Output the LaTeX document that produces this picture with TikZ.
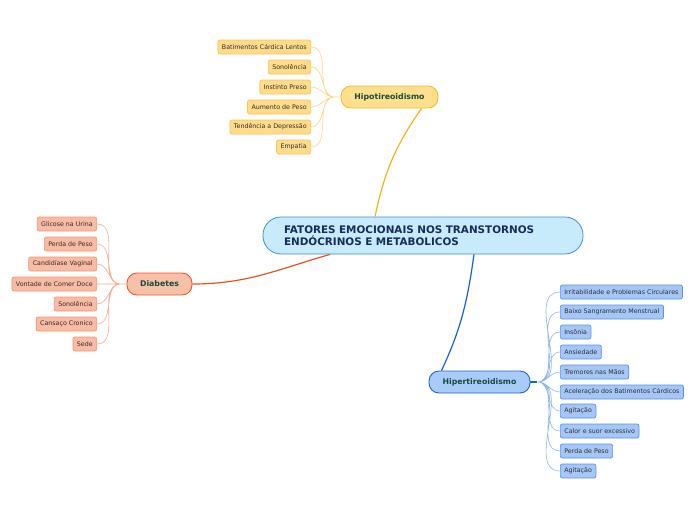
\documentclass[tikz,border=0pt]{standalone}
\usepackage{fontspec}
\setmainfont{DejaVu Sans}
\usepackage{xcolor}
\usepackage{tikz}
\usetikzlibrary{
	calc,
	positioning
}
\definecolor{CenterFill}{HTML}{C8EBFB}
\definecolor{CenterLine}{HTML}{3D8FD1}
\definecolor{CenterText}{HTML}{1A2A5A}
\definecolor{BranchText}{HTML}{174C3C}
\definecolor{LeafText}{HTML}{2E2E2E}
\definecolor{HipoFill}{HTML}{FFDF8E}
\definecolor{HipoLine}{HTML}{F6BB2A}
\definecolor{HipoEdge}{HTML}{F4B41A}
\definecolor{HipoLeaf}{HTML}{FFDB8A}
\definecolor{HipoLeafLine}{HTML}{F7C65C}
\definecolor{HipoLeafEdge}{HTML}{FFD580}
\definecolor{DiaFill}{HTML}{F8BFA9}
\definecolor{DiaLine}{HTML}{F0552A}
\definecolor{DiaEdge}{HTML}{F04E23}
\definecolor{DiaLeaf}{HTML}{F9BBA4}
\definecolor{DiaLeafLine}{HTML}{F79574}
\definecolor{DiaLeafEdge}{HTML}{FAAB8F}
\definecolor{HiperFill}{HTML}{A9CBF9}
\definecolor{HiperLine}{HTML}{1E64D3}
\definecolor{HiperEdge}{HTML}{1563D6}
\definecolor{HiperLeaf}{HTML}{A5C7F7}
\definecolor{HiperLeafLine}{HTML}{5A93E6}
\definecolor{HiperLeafEdge}{HTML}{8DB6F0}

\begin{document}
\begin{tikzpicture}[x=1pt, y=1pt,
	leaf/.style={draw, rounded corners=2pt, minimum height=14pt, inner xsep=4pt, inner ysep=0pt, line width=0.7pt, text=LeafText, font=\fontsize{6.3}{7}\selectfont},
	branch/.style={draw, rounded corners=10pt, minimum height=22pt, inner sep=0pt, line width=0.9pt, text=BranchText, font=\bfseries\fontsize{7.8}{9}\selectfont},
	twig/.style={line width=0.6pt}]
	\useasboundingbox (0,0) rectangle (696,-520);
	% central topic
	\node[draw=CenterLine, fill=CenterFill, line width=0.8pt, rounded corners=18pt, minimum width=320pt, minimum height=37pt, text width=278pt, align=left, text=CenterText, font=\bfseries\fontsize{10.4}{12}\selectfont] (center) at (423,-235.5) {FATORES EMOCIONAIS NOS TRANSTORNOS\\ENDÓCRINOS E METABOLICOS};
	% main branches
	\node[branch, draw=HipoLine, fill=HipoFill, minimum width=97pt] (hipo) at (389.5,-97) {Hipotireoidismo};
	\node[branch, draw=DiaLine, fill=DiaFill, minimum width=65pt] (dia) at (159.5,-284) {Diabetes};
	\node[branch, draw=HiperLine, fill=HiperFill, minimum width=101pt] (hiper) at (479.5,-382) {Hipertireoidismo};
	\draw[HipoEdge, line width=1.2pt] ([xshift=-48pt]center.north) to[out=78, in=235] ([xshift=32pt]hipo.south);
	\draw[DiaEdge, line width=1.2pt] ([xshift=-93pt]center.south) to[out=196, in=0] (dia.east);
	\draw[HiperEdge, line width=1.2pt] ([xshift=51pt]center.south) to[out=-98, in=65] ([xshift=-38pt]hiper.north);
	% Hipotireoidismo
	\node[leaf, fill=HipoLeaf, draw=HipoLeafLine, anchor=east] (h1) at (311,-47) {Batimentos Cárdica Lentos};
	\node[leaf, fill=HipoLeaf, draw=HipoLeafLine, anchor=east] (h2) at (311,-67) {Sonolência};
	\node[leaf, fill=HipoLeaf, draw=HipoLeafLine, anchor=east] (h3) at (311,-87) {Instinto Preso};
	\node[leaf, fill=HipoLeaf, draw=HipoLeafLine, anchor=east] (h4) at (311,-107) {Aumento de Peso};
	\node[leaf, fill=HipoLeaf, draw=HipoLeafLine, anchor=east] (h5) at (311,-127) {Tendência a Depressão};
	\node[leaf, fill=HipoLeaf, draw=HipoLeafLine, anchor=east] (h6) at (311,-147) {Empatia};
	\coordinate (hipohub) at ([xshift=-6pt]hipo.west);
	\draw[twig, HipoLeafEdge] (hipohub) -- (hipo.west)
		(h1.east) to[out=0, in=180] (hipohub) (h2.east) to[out=0, in=180] (hipohub)
		(h3.east) to[out=0, in=180] (hipohub) (h4.east) to[out=0, in=180] (hipohub)
		(h5.east) to[out=0, in=180] (hipohub) (h6.east) to[out=0, in=180] (hipohub);
	% Diabetes
	\node[leaf, fill=DiaLeaf, draw=DiaLeafLine, anchor=east] (d1) at (97,-224) {Glicose na Urina};
	\node[leaf, fill=DiaLeaf, draw=DiaLeafLine, anchor=east] (d2) at (97,-244) {Perda de Peso};
	\node[leaf, fill=DiaLeaf, draw=DiaLeafLine, anchor=east] (d3) at (97,-264) {Candidíase Vaginal};
	\node[leaf, fill=DiaLeaf, draw=DiaLeafLine, anchor=east] (d4) at (97,-284) {Vontade de Comer Doce};
	\node[leaf, fill=DiaLeaf, draw=DiaLeafLine, anchor=east] (d5) at (97,-304) {Sonolência};
	\node[leaf, fill=DiaLeaf, draw=DiaLeafLine, anchor=east] (d6) at (97,-324) {Cansaço Cronico};
	\node[leaf, fill=DiaLeaf, draw=DiaLeafLine, anchor=east] (d7) at (97,-344) {Sede};
	\coordinate (diahub) at ([xshift=-6pt]dia.west);
	\draw[twig, DiaLeafEdge] (diahub) -- (dia.west)
		(d1.east) to[out=0, in=180] (diahub) (d2.east) to[out=0, in=180] (diahub)
		(d3.east) to[out=0, in=180] (diahub) (d4.east) to[out=0, in=180] (diahub)
		(d5.east) to[out=0, in=180] (diahub) (d6.east) to[out=0, in=180] (diahub)
		(d7.east) to[out=0, in=180] (diahub);
	% Hipertireoidismo
	\node[leaf, fill=HiperLeaf, draw=HiperLeafLine, anchor=west] (p1) at (560,-292) {Irritabilidade e Problemas Circulares};
	\node[leaf, fill=HiperLeaf, draw=HiperLeafLine, anchor=west] (p2) at (560,-312) {Baixo Sangramento Menstrual};
	\node[leaf, fill=HiperLeaf, draw=HiperLeafLine, anchor=west] (p3) at (560,-332) {Insônia};
	\node[leaf, fill=HiperLeaf, draw=HiperLeafLine, anchor=west] (p4) at (560,-352) {Ansiedade};
	\node[leaf, fill=HiperLeaf, draw=HiperLeafLine, anchor=west] (p5) at (560,-372) {Tremores nas Mãos};
	\node[leaf, fill=HiperLeaf, draw=HiperLeafLine, anchor=west] (p6) at (560,-392) {Aceleração dos Batimentos Cárdicos};
	\node[leaf, fill=HiperLeaf, draw=HiperLeafLine, anchor=west] (p7) at (560,-411) {Agitação};
	\node[leaf, fill=HiperLeaf, draw=HiperLeafLine, anchor=west] (p8) at (560,-431) {Calor e suor excessivo};
	\node[leaf, fill=HiperLeaf, draw=HiperLeafLine, anchor=west] (p9) at (560,-451) {Perda de Peso};
	\node[leaf, fill=HiperLeaf, draw=HiperLeafLine, anchor=west] (p10) at (560,-471) {Agitação};
	\coordinate (hiperhub) at ([xshift=7pt]hiper.east);
	\draw[HiperEdge, line width=1.2pt] (hiper.east) -- (hiperhub);
	\draw[twig, HiperLeafEdge]
		(hiperhub) to[out=0, in=180] (p1.west) (hiperhub) to[out=0, in=180] (p2.west)
		(hiperhub) to[out=0, in=180] (p3.west) (hiperhub) to[out=0, in=180] (p4.west)
		(hiperhub) to[out=0, in=180] (p5.west) (hiperhub) to[out=0, in=180] (p6.west)
		(hiperhub) to[out=0, in=180] (p7.west) (hiperhub) to[out=0, in=180] (p8.west)
		(hiperhub) to[out=0, in=180] (p9.west) (hiperhub) to[out=0, in=180] (p10.west);
\end{tikzpicture}
\end{document}
